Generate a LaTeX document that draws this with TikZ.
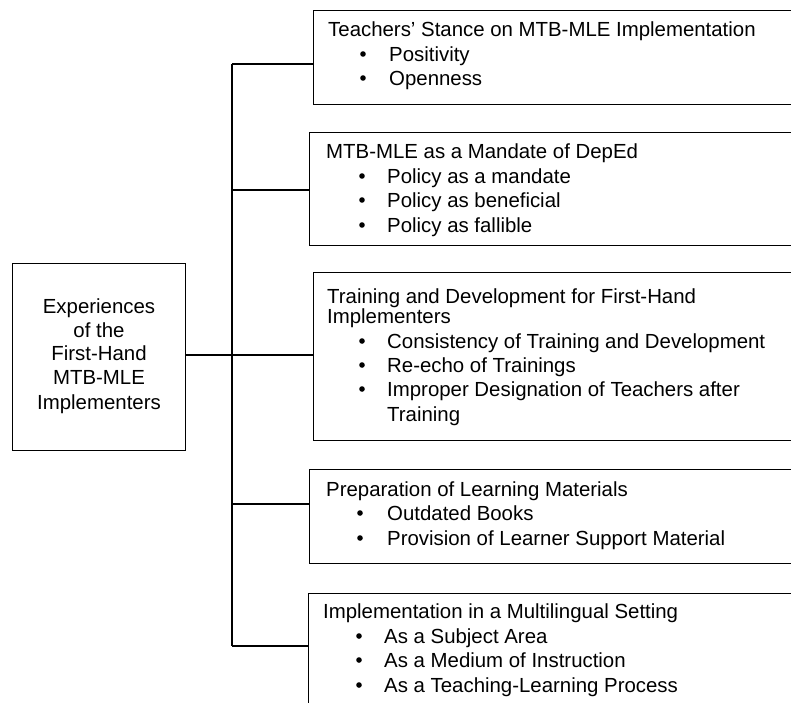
\documentclass[tikz,border=0pt]{standalone}
\usepackage{fontspec}
\setmainfont{Liberation Sans}
\begin{document}
\begin{tikzpicture}[x=1pt,y=-1pt,
  box/.style={draw=black,line width=1.3pt,rectangle,inner sep=0pt,anchor=north west},
  txt/.style={anchor=base west,inner sep=0pt,font=\fontsize{20.4}{24}\selectfont},
  ctxt/.style={anchor=base,inner sep=0pt,font=\fontsize{20.4}{24}\selectfont},
  bul/.style={circle,fill=black,draw=none,inner sep=0pt,minimum size=5.6pt},
  conn/.style={line width=1.3pt}]
\clip (0,0) rectangle (791,702);
\fill[white] (0,0) rectangle (791,702);
% main box
\node[box,minimum width=173pt,minimum height=187pt] (main) at (12,263) {};
\node[ctxt] (m1) at (99,313) {Experiences};
\node[ctxt] (m2) at (99,337) {of the};
\node[ctxt] (m3) at (99,360) {First-Hand};
\node[ctxt] (m4) at (99,384) {MTB-MLE};
\node[ctxt] (m5) at (99,409) {Implementers};
% boxes
\node[box,minimum width=500pt,minimum height=94pt] (b1) at (313,10) {};
\node[box,minimum width=500pt,minimum height=113pt] (b2) at (309,132) {};
\node[box,minimum width=500pt,minimum height=168pt] (b3) at (313,272) {};
\node[box,minimum width=500pt,minimum height=94pt] (b4) at (309,469) {};
\node[box,minimum width=500pt,minimum height=150pt] (b5) at (308,593) {};
% connectors
\coordinate (c0) at (232,355);
\coordinate (c1) at (232,64);
\coordinate (c2) at (232,190);
\coordinate (c3) at (232,355);
\coordinate (c4) at (232,504);
\coordinate (c5) at (232,646);
\draw[conn] (main.east |- c0) -- (c0);
\draw[conn] (c1) -- (c5);
\draw[conn] (c1) -- (c1 -| b1.west);
\draw[conn] (c2) -- (c2 -| b2.west);
\draw[conn] (c3) -- (c3 -| b3.west);
\draw[conn] (c4) -- (c4 -| b4.west);
\draw[conn] (c5) -- (c5 -| b5.west);
% box 1
\node[txt] (t10) at (328,36) {Teachers' Stance on MTB-MLE Implementation};
\node[bul] (u11) at (363,54) {};
\node[txt] (t11) at (389,61) {Positivity};
\node[bul] (u12) at (363,78) {};
\node[txt] (t12) at (389,85) {Openness};
% box 2
\node[txt] (t20) at (326,158) {MTB-MLE as a Mandate of DepEd};
\node[bul] (u21) at (362,176) {};
\node[txt] (t21) at (387,183) {Policy as a mandate};
\node[bul] (u22) at (362,200) {};
\node[txt] (t22) at (387,207) {Policy as beneficial};
\node[bul] (u23) at (362,225) {};
\node[txt] (t23) at (387,232) {Policy as fallible};
% box 3
\node[txt] (t30) at (327,303) {Training and Development for First-Hand};
\node[txt] (t30b) at (327,323) {Implementers};
\node[bul] (u31) at (362,341) {};
\node[txt] (t31) at (387,348) {Consistency of Training and Development};
\node[bul] (u32) at (362,365) {};
\node[txt] (t32) at (387,372) {Re-echo of Trainings};
\node[bul] (u33) at (362,389) {};
\node[txt] (t33) at (387,396) {Improper Designation of Teachers after};
\node[txt] (t33b) at (387,421) {Training};
% box 4
\node[txt] (t40) at (326,496) {Preparation of Learning Materials};
\node[bul] (u41) at (360,513) {};
\node[txt] (t41) at (387,520) {Outdated Books};
\node[bul] (u42) at (360,538) {};
\node[txt] (t42) at (387,545) {Provision of Learner Support Material};
% box 5
\node[txt] (t50) at (323,618) {Implementation in a Multilingual Setting};
\node[bul] (u51) at (359,636) {};
\node[txt] (t51) at (384,643) {As a Subject Area};
\node[bul] (u52) at (359,660) {};
\node[txt] (t52) at (384,667) {As a Medium of Instruction};
\node[bul] (u53) at (359,685) {};
\node[txt] (t53) at (384,692) {As a Teaching-Learning Process};
\end{tikzpicture}
\end{document}
